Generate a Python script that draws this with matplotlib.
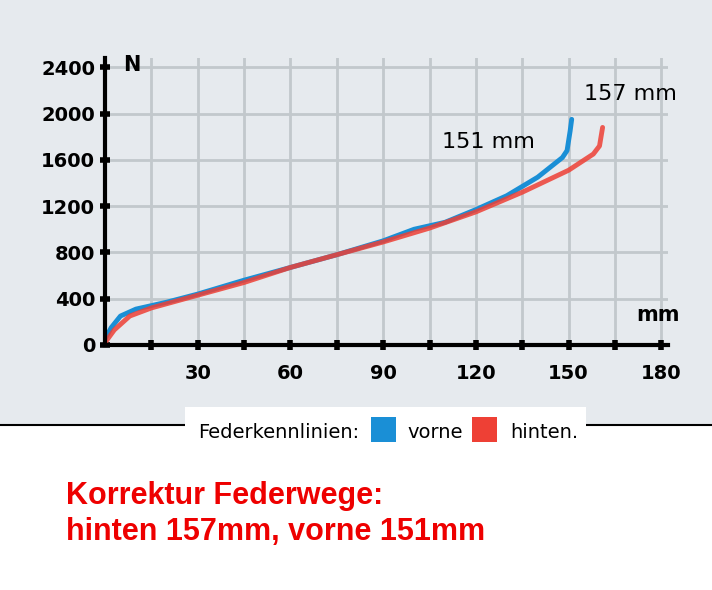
import matplotlib.pyplot as plt
import matplotlib.patches as patches

# spring curves (mm, N)
vorne_mm = [0, 2, 5, 10, 20, 30, 45, 60, 75, 90, 100, 110, 120, 130, 140, 148, 149.5, 150.5, 151]
vorne_n = [50, 150, 250, 310, 370, 440, 560, 670, 780, 900, 1000, 1060, 1170, 1290, 1450, 1620, 1680, 1850, 1950]
hinten_mm = [0, 3, 8, 15, 30, 45, 60, 75, 90, 105, 120, 135, 150, 158, 160, 161]
hinten_n = [20, 130, 250, 320, 430, 540, 670, 780, 890, 1010, 1150, 1320, 1510, 1650, 1720, 1880]

BG = '#e6eaee'
BLUE = '#1a8fd6'
RED = '#ee4035'

fig = plt.figure(figsize=(7.12, 5.9), dpi=100)
fig.patches.append(patches.Rectangle((0, 0.28), 1, 0.72, transform=fig.transFigure,
                                     facecolor=BG, edgecolor='none', zorder=-2))
fig.add_artist(plt.Line2D([0, 1], [0.28, 0.28], color='black', lw=1.5,
                          transform=fig.transFigure, zorder=-1))

ax = fig.add_axes([0.1475, 0.4153, 0.79, 0.4864])
ax.set_facecolor(BG)
ax.plot(vorne_mm, vorne_n, color=BLUE, lw=3.5, solid_capstyle='round')
ax.plot(hinten_mm, hinten_n, color=RED, lw=3.5, alpha=0.85, solid_capstyle='round')

ax.set_xlim(0, 182)
ax.set_ylim(0, 2480)
ax.set_xticks(range(15, 181, 15))
ax.set_xticklabels(['' if v % 30 else str(v) for v in range(15, 181, 15)])
ax.set_yticks(range(0, 2401, 400))
ax.grid(True, color='#c2c8cc', lw=2)
ax.set_axisbelow(True)
for s in ['top', 'right']:
    ax.spines[s].set_visible(False)
for s in ['left', 'bottom']:
    ax.spines[s].set_linewidth(3)
ax.tick_params(axis='both', length=7, width=4, direction='inout', labelsize=14)
for lab in ax.get_xticklabels() + ax.get_yticklabels():
    lab.set_fontweight('bold')
ax.tick_params(axis='x', pad=10)

ax.text(6, 2420, 'N', fontsize=15, fontweight='bold', va='center')
ax.text(179, 210, 'mm', fontsize=15, fontweight='bold', ha='center')
ax.text(109, 1700, '151 mm', fontsize=16)
ax.text(155, 2120, '157 mm', fontsize=16)

# legend box
fig.patches.append(patches.Rectangle((185 / 712, 1 - 450 / 590), 401 / 712, 43 / 590,
                                     transform=fig.transFigure, facecolor='white', edgecolor='none'))
fig.text(198 / 712, 1 - 433 / 590, 'Federkennlinien:', fontsize=14, va='center')
fig.patches.append(patches.Rectangle((371 / 712, 1 - 442 / 590), 25 / 712, 25 / 590,
                                     transform=fig.transFigure, facecolor=BLUE))
fig.text(407 / 712, 1 - 433 / 590, 'vorne', fontsize=14, va='center')
fig.patches.append(patches.Rectangle((472 / 712, 1 - 442 / 590), 25 / 712, 25 / 590,
                                     transform=fig.transFigure, facecolor=RED))
fig.text(510 / 712, 1 - 433 / 590, 'hinten.', fontsize=14, va='center')

fig.text(66 / 712, 1 - 514 / 590, 'Korrektur Federwege:\nhinten 157mm, vorne 151mm',
         color='#ee0000', fontsize=22, fontweight='bold', family='Liberation Sans',
         va='center', linespacing=1.25)

fig.savefig('out.png', dpi=100)
